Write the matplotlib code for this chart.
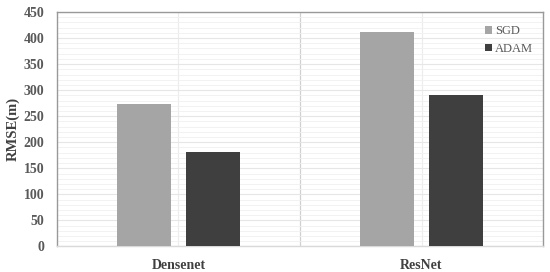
import matplotlib
matplotlib.use("Agg")
import matplotlib.pyplot as plt
import numpy as np
from matplotlib.ticker import MultipleLocator, FixedLocator

categories = ["Densenet", "ResNet"]
sgd = [273, 411]
adam = [182, 290]
series_names = ["SGD", "ADAM"]

plt.rcParams['font.family'] = ['Liberation Serif', 'DejaVu Serif']

fig = plt.figure(figsize=(5.5, 2.72), dpi=100)
ax = fig.add_axes([0.1036, 0.0938, 0.8837, 0.8622])

x = np.arange(len(categories))
w = 0.223
off = 0.142
ax.bar(x - off, sgd, w, color="#a5a5a5", label=series_names[0], zorder=3)
ax.bar(x + off, adam, w, color="#3f3f3f", label=series_names[1], zorder=3)

ax.set_xlim(-0.5, 1.5)
ax.set_ylim(0, 450)
ax.yaxis.set_major_locator(MultipleLocator(50))
ax.yaxis.set_minor_locator(MultipleLocator(10))
ax.set_xticks(x)
ax.set_xticklabels(categories)
ax.xaxis.set_minor_locator(FixedLocator([0.5]))

ax.grid(axis='y', which='major', color="#e6e6e6", lw=0.8, zorder=0)
ax.grid(axis='y', which='minor', color="#f0f0f0", lw=0.6, zorder=0)
ax.grid(axis='x', which='major', color="#ececec", lw=0.8, zorder=0)
ax.grid(axis='x', which='minor', color="#d0d0d0", lw=0.9, zorder=0)

ax.tick_params(axis='both', which='both', length=0)
ax.tick_params(axis='y', pad=9, labelsize=10, labelcolor="#595959")
ax.tick_params(axis='x', pad=9, labelsize=10, labelcolor="#404040")
for lbl in ax.get_yticklabels() + ax.get_xticklabels():
    lbl.set_fontweight('bold')

for side in ['left', 'top', 'right']:
    ax.spines[side].set_color("#999999")
    ax.spines[side].set_linewidth(1.0)
ax.spines['bottom'].set_color("#d9d9d9")
ax.spines['bottom'].set_linewidth(1.0)

ax.set_ylabel("RMSE(m)", fontsize=10.5, fontweight='bold', color="#404040")
ax.yaxis.set_label_coords(-0.077, 0.5)

leg = ax.legend(loc='upper right', bbox_to_anchor=(0.995, 0.975), frameon=False,
                fontsize=9, handlelength=0.55, handleheight=0.55, handletextpad=0.25,
                labelspacing=0.45, borderaxespad=0.2)
for t in leg.get_texts():
    t.set_color("#595959")

fig.savefig("out.png", dpi=100)
